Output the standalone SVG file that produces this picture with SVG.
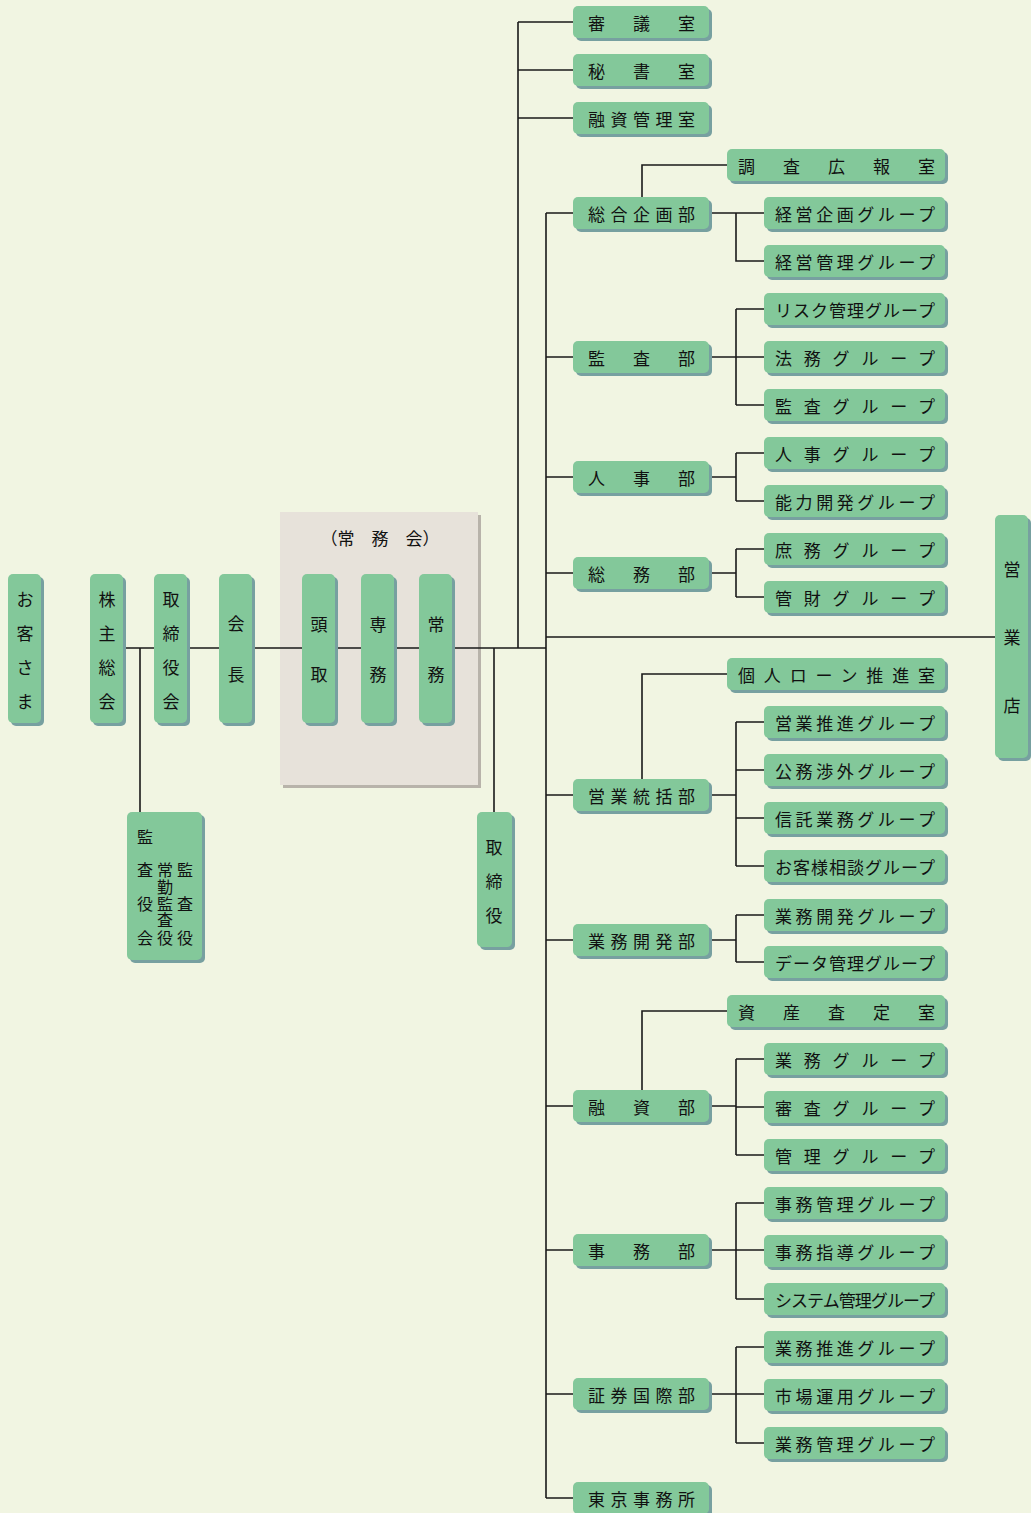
<svg xmlns="http://www.w3.org/2000/svg" width="1031" height="1513" viewBox="0 0 1031 1513">
<style>
.bg{fill:#F1F5E2}
.sh{fill:#77A0A0}
.bx{fill:#83C89A}
text{font-family:"Noto Sans CJK JP","Noto Sans CJK SC",sans-serif;font-size:17px;fill:#111;dominant-baseline:central}
.v{text-anchor:middle}
.s{font-size:16px}
</style>
<defs>
<g id="dept"><rect class="sh" x="3" y="3" width="136" height="32" rx="5"/><rect class="bx" width="136" height="32" rx="5"/></g>
<g id="grp"><rect class="sh" x="3" y="3" width="181" height="32" rx="5"/><rect class="bx" width="181" height="32" rx="5"/></g>
<g id="room"><rect class="sh" x="3" y="3" width="218" height="32" rx="5"/><rect class="bx" width="218" height="32" rx="5"/></g>
<g id="vt"><rect class="sh" x="3" y="3" width="33" height="149" rx="5"/><rect class="bx" width="33" height="149" rx="5"/></g>
</defs>
<rect class="bg" width="1031" height="1513"/>

<g id="jomukai">
<rect x="283" y="515" width="198" height="273" fill="#B8B3AA"/>
<rect x="280" y="512" width="198" height="273" fill="#E7E2DA"/>
<text x="380" y="537" class="v">（常　務　会）</text>
</g>

<g id="connectors" stroke="#1a1a1a" stroke-width="1.6" fill="none">
<path d="M123 648H546M140 648V812M494 648V812"/>
<path d="M518 22V648M518 22H573M518 70H573M518 118H573"/>
<path d="M546 213V1498M546 637H995"/>
<path d="M546 213H573M546 357H573M546 477H573M546 573H573M546 795H573M546 940H573M546 1106H573M546 1250H573M546 1394H573M546 1498H573"/>
<path d="M642 197V165H727M709 213H764M736 213V261H764"/>
<path d="M709 357H764M736 309V405M736 309H764M736 405H764"/>
<path d="M709 477H736M736 453V501M736 453H764M736 501H764"/>
<path d="M709 573H736M736 549V597M736 549H764M736 597H764"/>
<path d="M642 779V674H727M709 795H736M736 722V866M736 722H764M736 770H764M736 818H764M736 866H764"/>
<path d="M709 940H736M736 915V962M736 915H764M736 962H764"/>
<path d="M642 1090V1011H727M709 1106H736M736 1059V1155M736 1059H764M736 1107H764M736 1155H764"/>
<path d="M709 1250H764M736 1203V1299M736 1203H764M736 1299H764"/>
<path d="M709 1394H764M736 1347V1443M736 1347H764M736 1443H764"/>
</g>

<g id="okyakusama"><use href="#vt" x="8" y="574"/><text class="v" x="25 25 25 25" y="598 632 666 700">お客さま</text></g>
<g id="kabunushi"><use href="#vt" x="90" y="574"/><text class="v" x="107 107 107 107" y="598 632 666 700">株主総会</text></g>
<g id="torishimariyakukai"><use href="#vt" x="154" y="574"/><text class="v" x="171 171 171 171" y="598 632 666 700">取締役会</text></g>
<g id="kaicho"><use href="#vt" x="219" y="574"/><text class="v" x="236 236" y="622 673">会長</text></g>
<g id="todori"><use href="#vt" x="302" y="574"/><text class="v" x="319 319" y="623 673">頭取</text></g>
<g id="senmu"><use href="#vt" x="361" y="574"/><text class="v" x="378 378" y="623 673">専務</text></g>
<g id="jomu"><use href="#vt" x="419" y="574"/><text class="v" x="436 436" y="623 673">常務</text></g>

<g id="kansayakukai">
<rect class="sh" x="130" y="815" width="75" height="148" rx="5"/><rect class="bx" x="127" y="812" width="75" height="148" rx="5"/>
<text class="v s" x="145 145 145 145" y="836 869 903 937">監査役会</text>
<text class="v s" x="165 165 165 165 165" y="869 886 903 919 937">常勤監査役</text>
<text class="v s" x="185 185 185" y="869 903 937">監査役</text>
</g>

<g id="torishimariyaku">
<rect class="sh" x="480" y="815" width="35" height="135" rx="5"/><rect class="bx" x="477" y="812" width="35" height="135" rx="5"/>
<text class="v" x="494 494 494" y="846 880 914">取締役</text>
</g>

<g id="eigyoten">
<rect class="sh" x="998" y="518" width="33" height="243" rx="5"/><rect class="bx" x="995" y="515" width="33" height="243" rx="5"/>
<text class="v" x="1012 1012 1012" y="568 636 704">営業店</text>
</g>

<g id="shingi"><use href="#dept" x="573" y="6"/><text x="588" y="22" textLength="107" lengthAdjust="spacing">審議室</text></g>
<g id="hisho"><use href="#dept" x="573" y="54"/><text x="588" y="70" textLength="107" lengthAdjust="spacing">秘書室</text></g>
<g id="yushikanri"><use href="#dept" x="573" y="102"/><text x="588" y="118" textLength="107" lengthAdjust="spacing">融資管理室</text></g>

<g id="sogokikaku"><use href="#dept" x="573" y="197"/><text x="588" y="213" textLength="107" lengthAdjust="spacing">総合企画部</text></g>
<g id="kansa"><use href="#dept" x="573" y="341"/><text x="588" y="357" textLength="107" lengthAdjust="spacing">監査部</text></g>
<g id="jinji"><use href="#dept" x="573" y="461"/><text x="588" y="477" textLength="107" lengthAdjust="spacing">人事部</text></g>
<g id="somu"><use href="#dept" x="573" y="557"/><text x="588" y="573" textLength="107" lengthAdjust="spacing">総務部</text></g>
<g id="eigyotokatsu"><use href="#dept" x="573" y="779"/><text x="588" y="795" textLength="107" lengthAdjust="spacing">営業統括部</text></g>
<g id="gyomukaihatsu"><use href="#dept" x="573" y="924"/><text x="588" y="940" textLength="107" lengthAdjust="spacing">業務開発部</text></g>
<g id="yushi"><use href="#dept" x="573" y="1090"/><text x="588" y="1106" textLength="107" lengthAdjust="spacing">融資部</text></g>
<g id="jimu"><use href="#dept" x="573" y="1234"/><text x="588" y="1250" textLength="107" lengthAdjust="spacing">事務部</text></g>
<g id="shokenkokusai"><use href="#dept" x="573" y="1378"/><text x="588" y="1394" textLength="107" lengthAdjust="spacing">証券国際部</text></g>
<g id="tokyo"><use href="#dept" x="573" y="1482"/><text x="588" y="1498" textLength="107" lengthAdjust="spacing">東京事務所</text></g>

<g id="chosakoho"><use href="#room" x="727" y="149"/><text x="738" y="165" textLength="197" lengthAdjust="spacing">調査広報室</text></g>
<g id="kojinloan"><use href="#room" x="727" y="658"/><text x="738" y="674" textLength="197" lengthAdjust="spacing">個人ローン推進室</text></g>
<g id="shisansatei"><use href="#room" x="727" y="995"/><text x="738" y="1011" textLength="197" lengthAdjust="spacing">資産査定室</text></g>

<g id="g1"><use href="#grp" x="764" y="197"/><text x="775" y="213" textLength="160" lengthAdjust="spacing">経営企画グループ</text></g>
<g id="g2"><use href="#grp" x="764" y="245"/><text x="775" y="261" textLength="160" lengthAdjust="spacing">経営管理グループ</text></g>
<g id="g3"><use href="#grp" x="764" y="293"/><text x="775" y="309" textLength="160" lengthAdjust="spacing">リスク管理グループ</text></g>
<g id="g4"><use href="#grp" x="764" y="341"/><text x="775" y="357" textLength="160" lengthAdjust="spacing">法務グループ</text></g>
<g id="g5"><use href="#grp" x="764" y="389"/><text x="775" y="405" textLength="160" lengthAdjust="spacing">監査グループ</text></g>
<g id="g6"><use href="#grp" x="764" y="437"/><text x="775" y="453" textLength="160" lengthAdjust="spacing">人事グループ</text></g>
<g id="g7"><use href="#grp" x="764" y="485"/><text x="775" y="501" textLength="160" lengthAdjust="spacing">能力開発グループ</text></g>
<g id="g8"><use href="#grp" x="764" y="533"/><text x="775" y="549" textLength="160" lengthAdjust="spacing">庶務グループ</text></g>
<g id="g9"><use href="#grp" x="764" y="581"/><text x="775" y="597" textLength="160" lengthAdjust="spacing">管財グループ</text></g>
<g id="g10"><use href="#grp" x="764" y="706"/><text x="775" y="722" textLength="160" lengthAdjust="spacing">営業推進グループ</text></g>
<g id="g11"><use href="#grp" x="764" y="754"/><text x="775" y="770" textLength="160" lengthAdjust="spacing">公務渉外グループ</text></g>
<g id="g12"><use href="#grp" x="764" y="802"/><text x="775" y="818" textLength="160" lengthAdjust="spacing">信託業務グループ</text></g>
<g id="g13"><use href="#grp" x="764" y="850"/><text x="775" y="866" textLength="160" lengthAdjust="spacing">お客様相談グループ</text></g>
<g id="g14"><use href="#grp" x="764" y="899"/><text x="775" y="915" textLength="160" lengthAdjust="spacing">業務開発グループ</text></g>
<g id="g15"><use href="#grp" x="764" y="946"/><text x="775" y="962" textLength="160" lengthAdjust="spacing">データ管理グループ</text></g>
<g id="g16"><use href="#grp" x="764" y="1043"/><text x="775" y="1059" textLength="160" lengthAdjust="spacing">業務グループ</text></g>
<g id="g17"><use href="#grp" x="764" y="1091"/><text x="775" y="1107" textLength="160" lengthAdjust="spacing">審査グループ</text></g>
<g id="g18"><use href="#grp" x="764" y="1139"/><text x="775" y="1155" textLength="160" lengthAdjust="spacing">管理グループ</text></g>
<g id="g19"><use href="#grp" x="764" y="1187"/><text x="775" y="1203" textLength="160" lengthAdjust="spacing">事務管理グループ</text></g>
<g id="g20"><use href="#grp" x="764" y="1235"/><text x="775" y="1251" textLength="160" lengthAdjust="spacing">事務指導グループ</text></g>
<g id="g21"><use href="#grp" x="764" y="1283"/><text x="775" y="1299" textLength="160" lengthAdjust="spacing">システム管理グループ</text></g>
<g id="g22"><use href="#grp" x="764" y="1331"/><text x="775" y="1347" textLength="160" lengthAdjust="spacing">業務推進グループ</text></g>
<g id="g23"><use href="#grp" x="764" y="1379"/><text x="775" y="1395" textLength="160" lengthAdjust="spacing">市場運用グループ</text></g>
<g id="g24"><use href="#grp" x="764" y="1427"/><text x="775" y="1443" textLength="160" lengthAdjust="spacing">業務管理グループ</text></g>
</svg>
